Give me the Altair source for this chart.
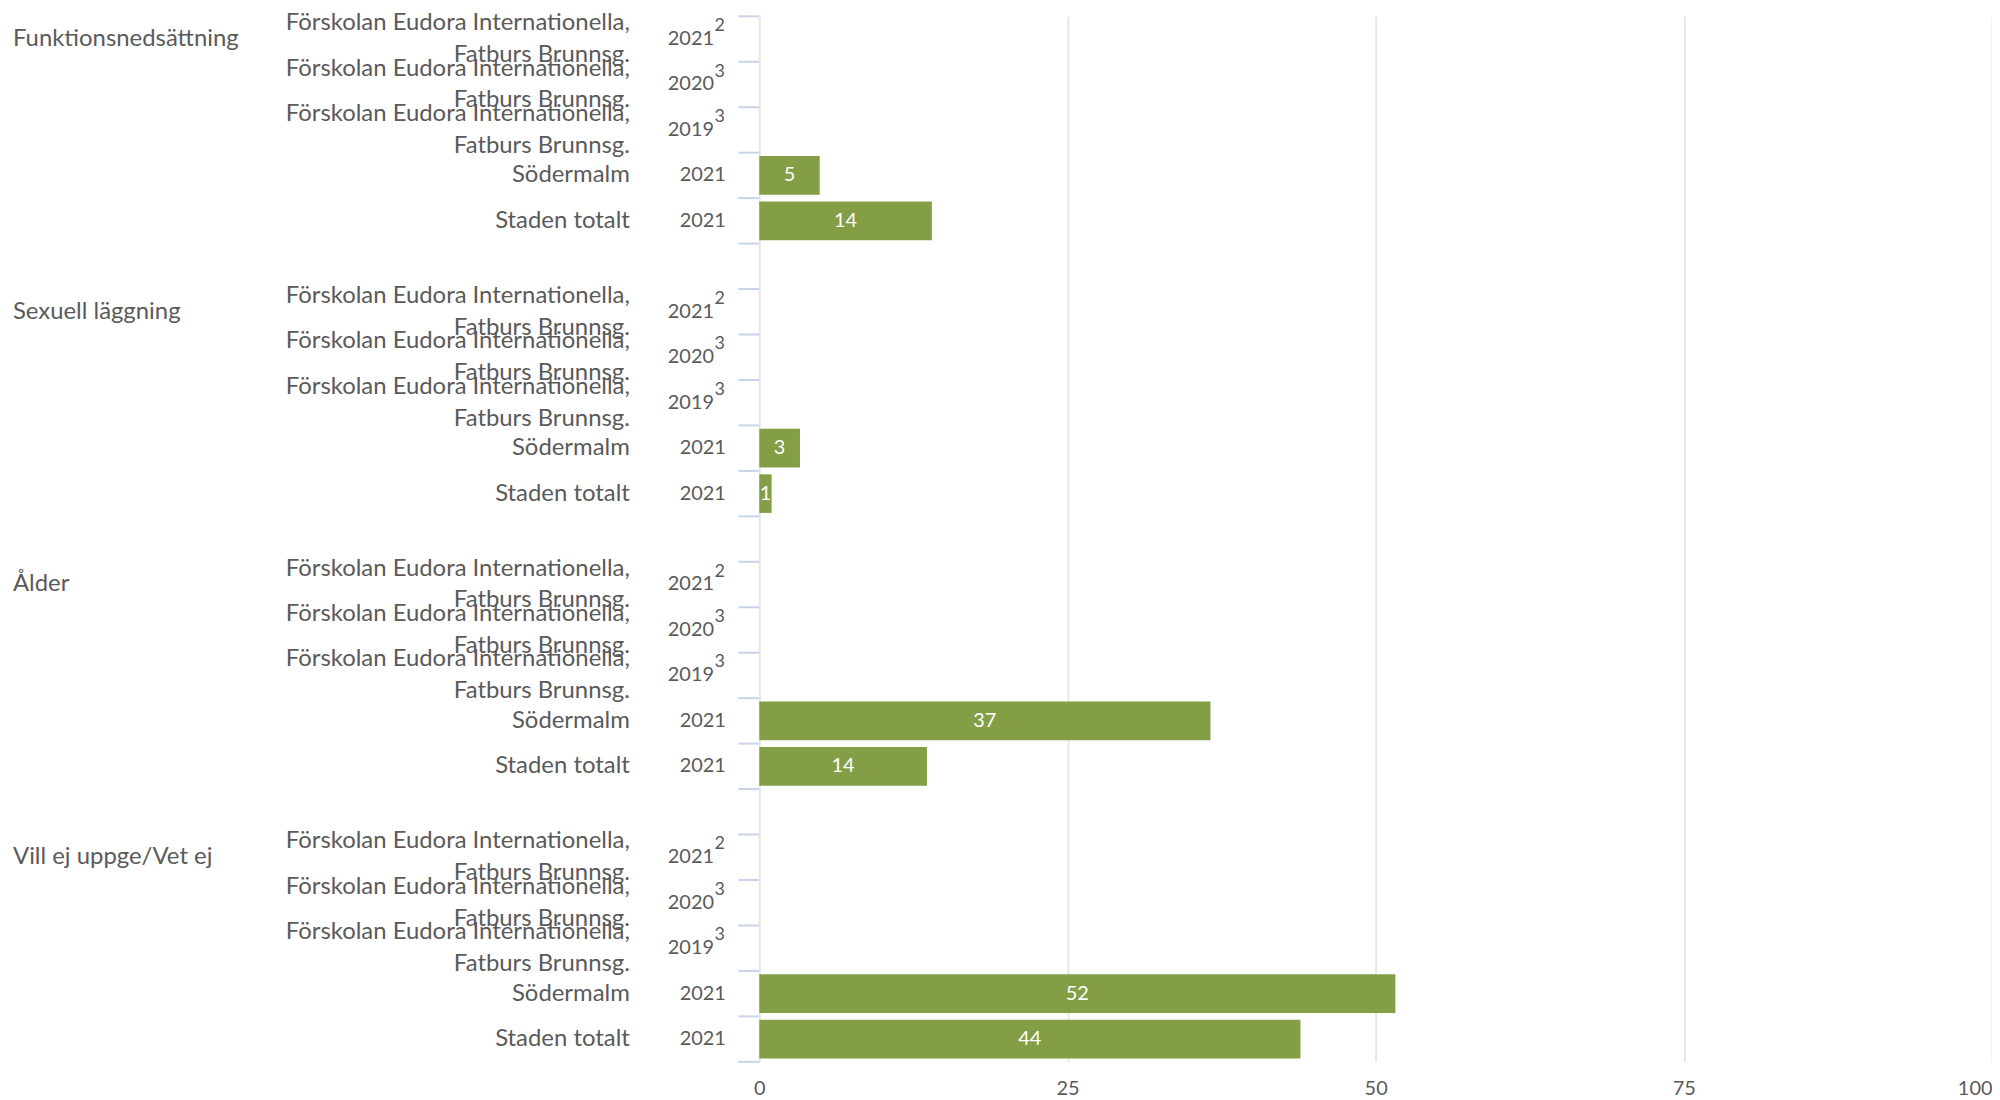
import altair as alt
import pandas as pd

categories = ["Funktionsnedsättning", "Sexuell läggning", "Ålder", "Vill ej uppge/Vet ej"]
row_names = [
    "Förskolan Eudora Internationella,\nFatburs Brunnsg.",
    "Förskolan Eudora Internationella,\nFatburs Brunnsg.",
    "Förskolan Eudora Internationella,\nFatburs Brunnsg.",
    "Södermalm",
    "Staden totalt",
]
row_years = ["2021", "2020", "2019", "2021", "2021"]
row_sups = ["2", "3", "3", "", ""]
values = {
    "Funktionsnedsättning": [None, None, None, 4.9, 14.0],
    "Sexuell läggning": [None, None, None, 3.3, 1.0],
    "Ålder": [None, None, None, 36.6, 13.6],
    "Vill ej uppge/Vet ej": [None, None, None, 51.6, 43.9],
}
x_ticks = [0, 25, 50, 75, 100]

TEXT = "#5a5a5a"
BAR = "#839e44"
FONT = "Lato"

keys = []
rows = []
cat_rows = []
for gi, cat in enumerate(categories):
    for ri in range(len(row_names)):
        k = f"{gi}-{ri}"
        keys.append(k)
        v = values[cat][ri]
        rows.append({
            "key": k,
            "category": cat,
            "name": row_names[ri],
            "multi": "\n" in row_names[ri],
            "year": row_years[ri],
            "sup": row_sups[ri],
            "value": v,
            "label": "" if v is None else str(int(round(v))),
        })
        if ri == 0:
            cat_rows.append({"key": k, "category": cat})
    if gi < len(categories) - 1:
        keys.append(f"gap-{gi}")

df = pd.DataFrame(rows)
cat_df = pd.DataFrame(cat_rows)
tick_df = pd.DataFrame({"key": keys})
last_df = pd.DataFrame({"key": [keys[-1]]})

yscale = alt.Scale(domain=keys, paddingInner=0, paddingOuter=0)
Y = alt.Y("key:N", scale=yscale, axis=None)

base = alt.Chart(df)

bars = base.transform_filter("isValid(datum.value)").mark_bar(
    color=BAR, height={"band": 0.85}
).encode(
    x=alt.X(
        "value:Q",
        scale=alt.Scale(domain=[0, 100], nice=False),
        axis=alt.Axis(
            values=x_ticks,
            title=None,
            domain=False,
            ticks=False,
            grid=True,
            gridColor="#e6e6e6",
            gridWidth=2,
            labelFont=FONT,
            labelFontSize=20,
            labelColor=TEXT,
            labelPadding=17,
            labelAlign={"condition": {"test": "datum.value === 100", "value": "right"}, "value": "center"},
        ),
    ),
    y=Y,
)

bar_labels = base.transform_filter("isValid(datum.value)").transform_calculate(
    half="datum.value / 2"
).mark_text(font=FONT, fontSize=20, color="white", baseline="middle", align="center").encode(
    x=alt.X("half:Q"),
    y=Y,
    text="label:N",
)

ticks = alt.Chart(tick_df).mark_rule(color="#c8d3ea", strokeWidth=2).encode(
    x=alt.value(-21), x2=alt.value(0),
    y=alt.Y("key:N", scale=yscale, axis=None, bandPosition=0),
)
last_tick = alt.Chart(last_df).mark_rule(color="#c8d3ea", strokeWidth=2).encode(
    x=alt.value(-21), x2=alt.value(0),
    y=alt.Y("key:N", scale=yscale, axis=None, bandPosition=1),
)

names_multi = base.transform_filter("datum.multi").mark_text(
    font=FONT, fontSize=24, color=TEXT, align="right", baseline="middle",
    lineBreak="\n", lineHeight=32, dy=-16,
).encode(x=alt.value(-130), y=Y, text="name:N")

names_single = base.transform_filter("!datum.multi").mark_text(
    font=FONT, fontSize=24, color=TEXT, align="right", baseline="middle",
).encode(x=alt.value(-130), y=Y, text="name:N")

years_plain = base.transform_filter("datum.sup == ''").mark_text(
    font=FONT, fontSize=20, color=TEXT, align="right", baseline="middle"
).encode(x=alt.value(-33.5), y=Y, text="year:N")

years_sup = base.transform_filter("datum.sup != ''").mark_text(
    font=FONT, fontSize=20, color=TEXT, align="right", baseline="middle"
).encode(x=alt.value(-45.5), y=Y, text="year:N")

sups = base.transform_filter("datum.sup != ''").mark_text(
    font=FONT, fontSize=18, color=TEXT, align="left", baseline="middle", dy=-13
).encode(x=alt.value(-45), y=Y, text="sup:N")

cats = alt.Chart(cat_df).mark_text(
    font=FONT, fontSize=24, color=TEXT, align="left", baseline="middle"
).encode(x=alt.value(-749.5), y=Y, text="category:N")

chart = alt.layer(
    bars, bar_labels, ticks, last_tick, names_multi, names_single,
    years_plain, years_sup, sups, cats
).properties(
    width=1238,
    height=1050,
    autosize=alt.AutoSizeParams(type="none"),
    padding={"left": 754.5, "top": 6, "right": 0, "bottom": 36},
).configure_view(stroke=None)

chart.save("out.html", embed_options={"renderer": "svg", "actions": False})
